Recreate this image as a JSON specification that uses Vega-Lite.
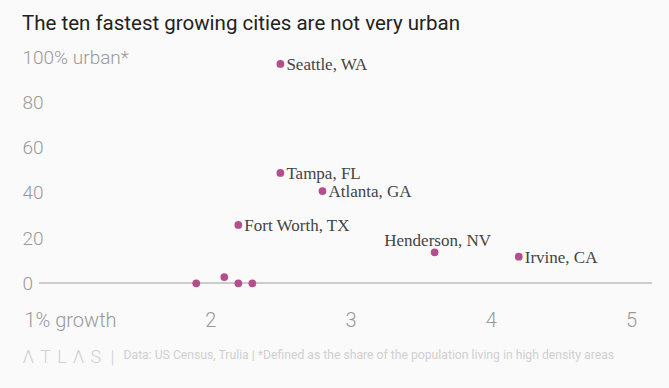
{
  "$schema": "https://vega.github.io/schema/vega-lite/v6.json",
  "autosize": {"type": "none"},
  "width": 603,
  "height": 267,
  "padding": {"left": 49, "top": 39, "right": 17, "bottom": 82},
  "background": "#fafafa",
  "title": {
    "text": "The ten fastest growing cities are not very urban",
    "anchor": "start",
    "frame": "group",
    "dx": -27,
    "offset": 5,
    "font": "Roboto",
    "fontSize": 20.5,
    "fontWeight": 400,
    "color": "#222222"
  },
  "config": {
    "view": {"stroke": null},
    "axis": {
      "domain": false,
      "ticks": false,
      "gridColor": "#ebebeb",
      "gridWidth": 1,
      "labelFont": "Roboto",
      "labelFontWeight": 300,
      "labelFontSize": 19,
      "labelColor": "#999999"
    }
  },
  "data": {
    "values": [
      {"city": "Seattle, WA", "growth": 2.5, "urban": 97},
      {"city": "Tampa, FL", "growth": 2.5, "urban": 48.8},
      {"city": "Atlanta, GA", "growth": 2.8, "urban": 40.8},
      {"city": "Fort Worth, TX", "growth": 2.2, "urban": 25.8},
      {"city": "Henderson, NV", "growth": 3.6, "urban": 13.7},
      {"city": "Irvine, CA", "growth": 4.2, "urban": 11.8},
      {"city": "", "growth": 1.9, "urban": 0},
      {"city": "", "growth": 2.1, "urban": 2.8},
      {"city": "", "growth": 2.2, "urban": 0},
      {"city": "", "growth": 2.3, "urban": 0}
    ]
  },
  "layer": [
    {
      "mark": {"type": "rule", "color": "#cccccc", "strokeWidth": 1.5},
      "encoding": {
        "x": {"datum": 0.78, "type": "quantitative", "scale": {"domain": [0.85, 5.15], "nice": false, "zero": false}},
        "x2": {"datum": 5.15},
        "y": {"datum": 0, "type": "quantitative"}
      }
    },
    {
      "mark": {"type": "point", "filled": true, "opacity": 1, "size": 60, "color": "#b54f8c"},
      "encoding": {
        "x": {
          "field": "growth",
          "type": "quantitative",
          "scale": {"domain": [0.85, 5.15], "nice": false, "zero": false},
          "axis": {
            "values": [1, 2, 3, 4, 5],
            "format": "d",
            "labelExpr": "datum.value == 1 ? '1% growth' : datum.label",
            "labelFontSize": 20,
            "labelPadding": 4,
            "labelBaseline": "top",
            "title": "Data: US Census, Trulia | *Defined as the share of the population living in high density areas",
            "titleFont": "Roboto",
            "titleFontWeight": 400,
            "titleFontSize": 12.2,
            "titleColor": "#d0d0d0",
            "titleAlign": "left",
            "titleBaseline": "middle",
            "titleX": 74,
            "titleY": 48
          }
        },
        "y": {
          "field": "urban",
          "type": "quantitative",
          "scale": {"domain": [-10, 108], "nice": false, "zero": false},
          "axis": {
            "values": [0, 20, 40, 60, 80, 100],
            "labelExpr": "datum.value == 100 ? '100% urban*' : datum.label",
            "labelAlign": "left",
            "labelPadding": 27,
            "title": "Λ\u2004T\u2004L\u2004Λ\u2004S\u2002|",
            "titleFont": "Roboto",
            "titleFontWeight": 300,
            "titleFontSize": 18,
            "titleColor": "#d0d0d0",
            "titleAngle": 0,
            "titleAlign": "left",
            "titleBaseline": "middle",
            "titleX": -27,
            "titleY": 318
          }
        }
      }
    },
    {
      "transform": [{"filter": "datum.city != '' && datum.city != 'Henderson, NV'"}],
      "mark": {"type": "text", "align": "left", "baseline": "middle", "dx": 6, "dy": 1, "font": "Liberation Serif", "fontSize": 17, "color": "#444444"},
      "encoding": {
        "x": {"field": "growth", "type": "quantitative"},
        "y": {"field": "urban", "type": "quantitative"},
        "text": {"field": "city"}
      }
    },
    {
      "transform": [{"filter": "datum.city == 'Henderson, NV'"}],
      "mark": {"type": "text", "align": "center", "baseline": "alphabetic", "dx": 3, "dy": -6, "font": "Liberation Serif", "fontSize": 17, "color": "#444444"},
      "encoding": {
        "x": {"field": "growth", "type": "quantitative"},
        "y": {"field": "urban", "type": "quantitative"},
        "text": {"field": "city"}
      }
    }
  ]
}
